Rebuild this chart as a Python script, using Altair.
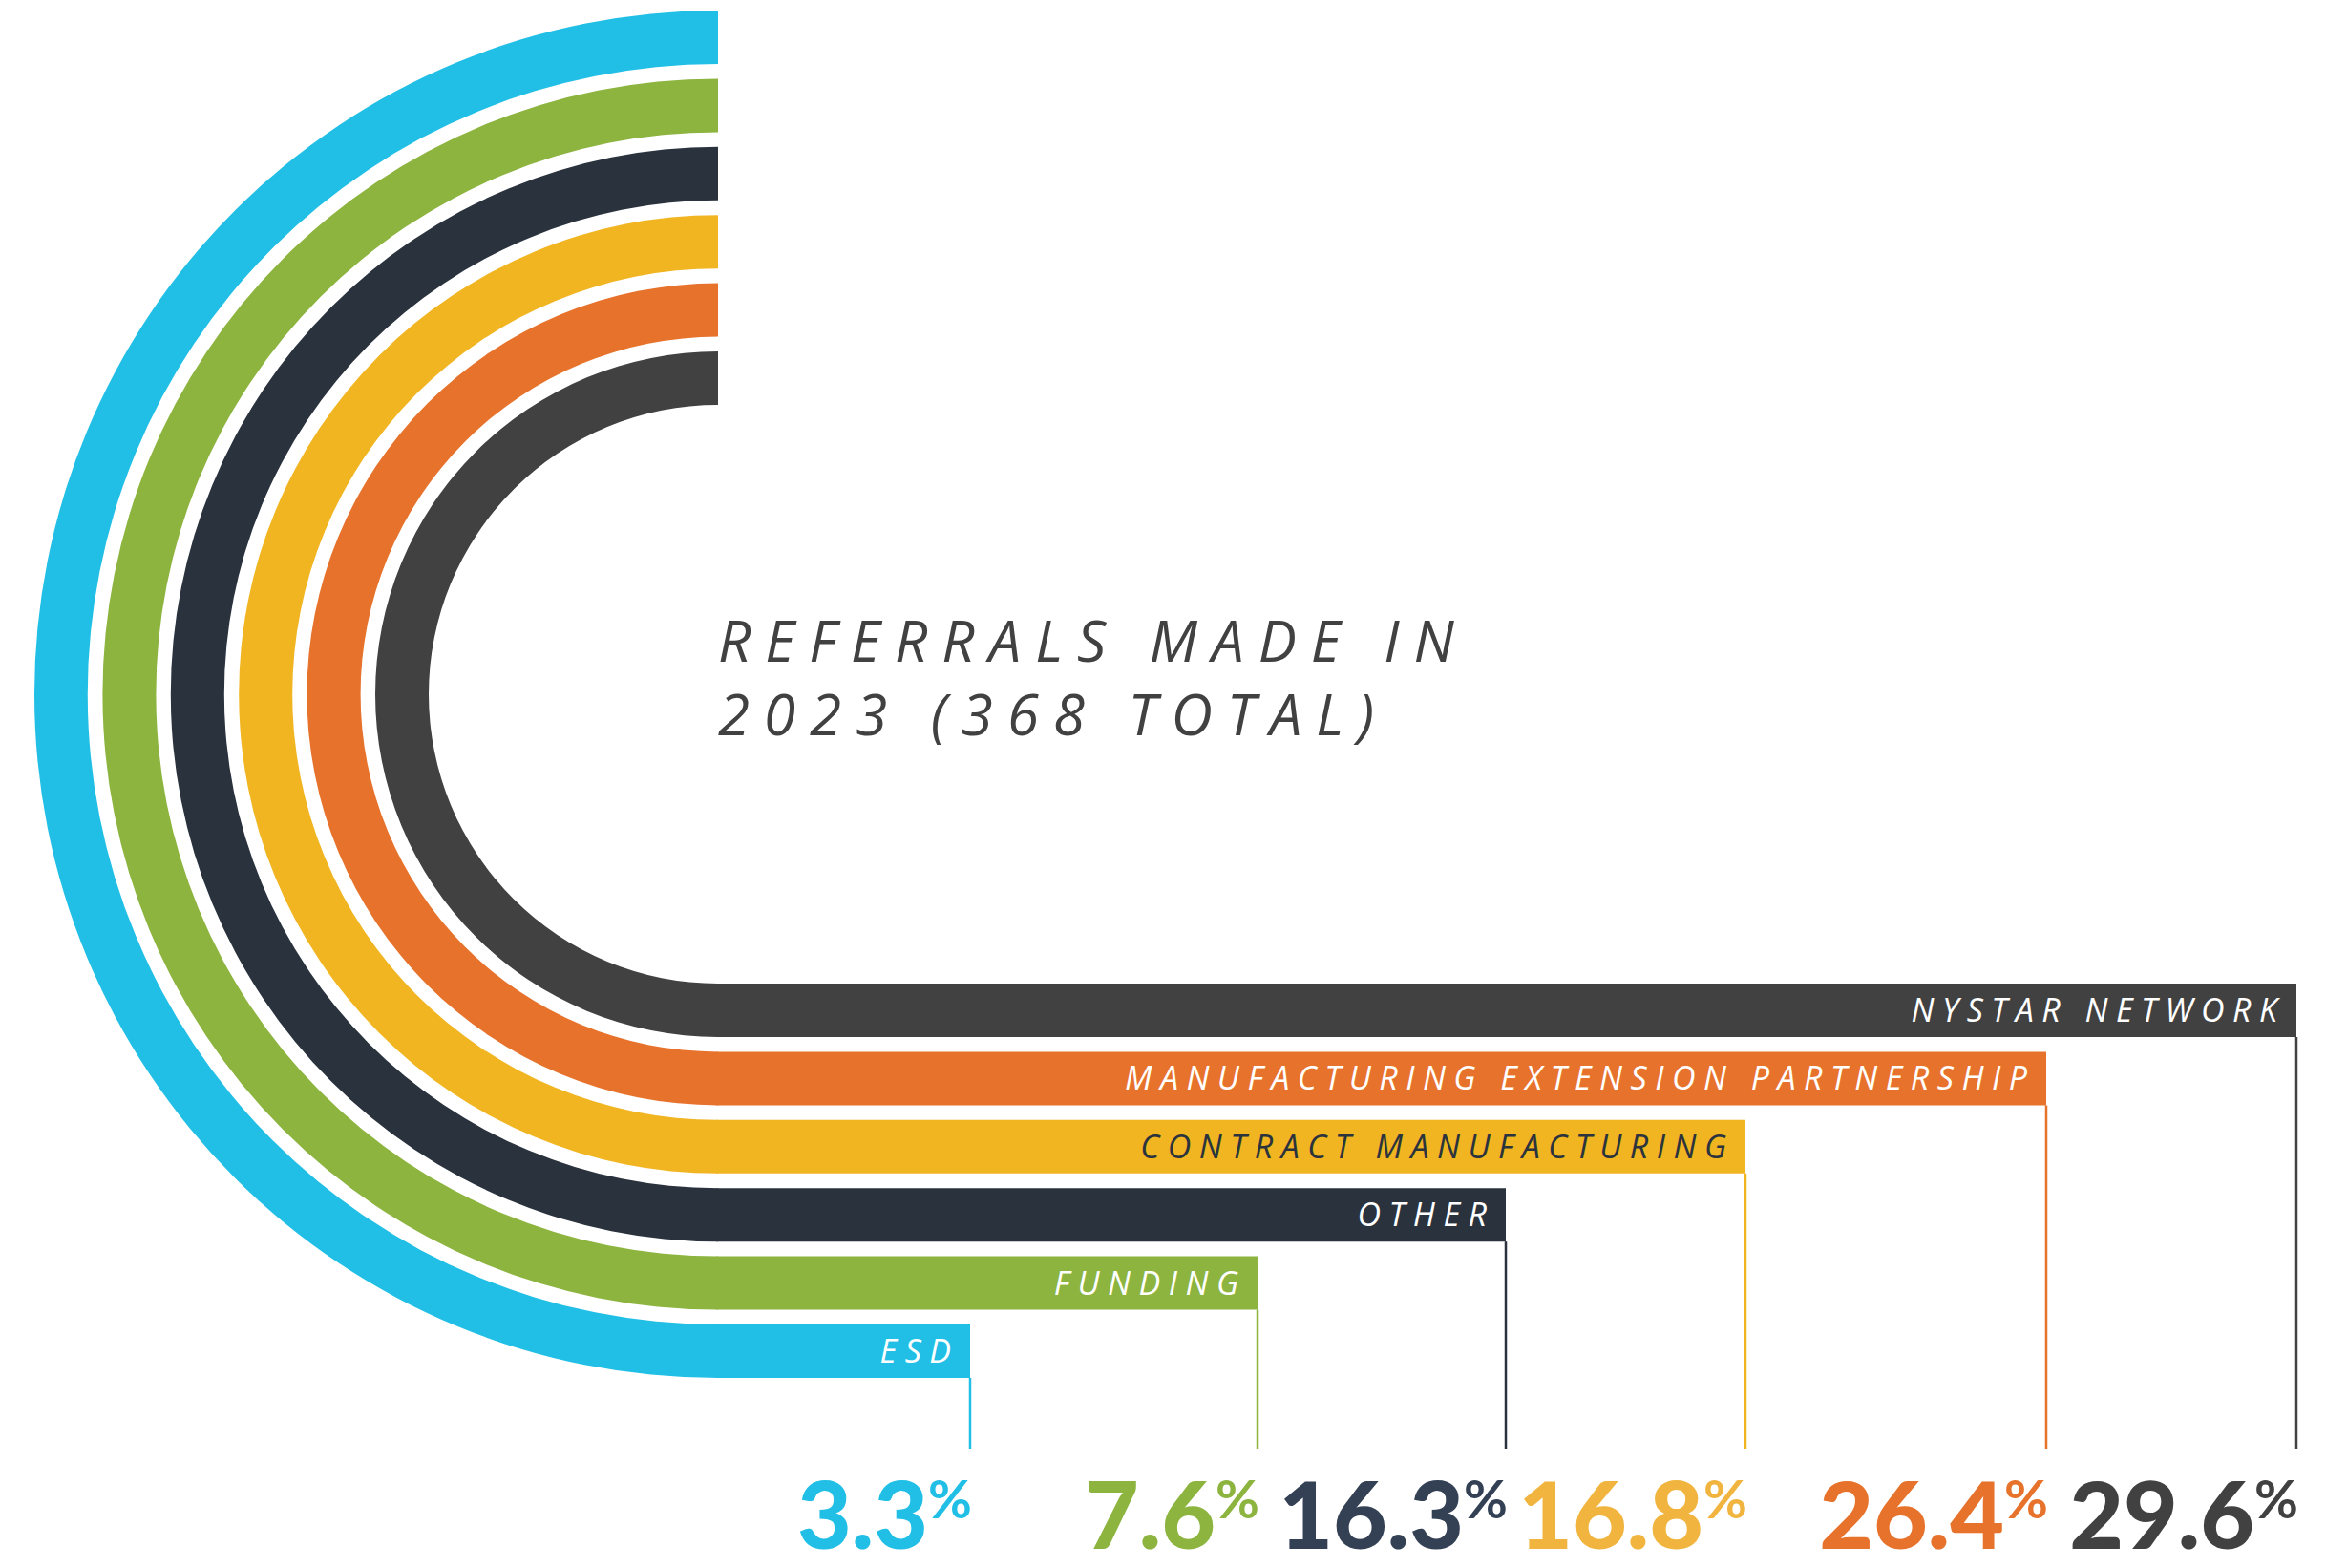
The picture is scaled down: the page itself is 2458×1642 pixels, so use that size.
import math
import altair as alt
import pandas as pd

# ---------------- data ----------------
categories = ["ESD", "Funding", "Other", "Contract Manufacturing",
              "Manufacturing Extension Partnership", "NYSTAR Network"]
percents = [3.3, 7.6, 16.3, 16.8, 26.4, 29.6]
band_colors = ["#21BFE6", "#8CB43F", "#29323D", "#F0B521", "#E7722B", "#414141"]
value_colors = ["#21BFE6", "#8CB43F", "#344154", "#F1B53F", "#E7722B", "#414141"]
label_colors = ["#FFFFFF", "#FFFFFF", "#FFFFFF", "#2B333D", "#FFFFFF", "#FFFFFF"]
title_lines = ["REFERRALS MADE IN", "2023 (368 TOTAL)"]

# ---------------- layout / style ----------------
W, H = 2458, 1642
CY = 727                      # ring centre (pixels from top)
R_OUTER = 716                 # outer radius of outermost ring
PITCH = 71.4                  # ring spacing
THICK = 56                    # ring thickness
RULE_END = 1517 - CY          # bottom end of thin leader lines
PCT_BASE = 1622 - CY          # baseline of percentage figures
SUP_BASE = 1590 - CY          # baseline of superscript %
end_positions = [752, 1016, 1317, 1577, 1828, 2143, 2405]  # x scale range (rank 0..6)

TRACK = "\u2005"  # four-per-em space, used as letter tracking


def tracked(s):
    return TRACK.join(list(s))


rows = []
for i, (c, p) in enumerate(zip(categories, percents)):
    r_out = R_OUTER - i * PITCH
    r_in = r_out - THICK
    rows.append(dict(
        cat=c, pct=p, num=f"{p:.1f}", rank=i + 1,
        label=tracked(c.upper()), label_color=label_colors[i], value_color=value_colors[i],
        x0=0, bar_start=-0.006, y0=0,
        r_out=r_out, r_in=r_in, r_mid=(r_out + r_in) / 2,
        t0=math.pi, t1=2 * math.pi,
        rule_end=RULE_END, pct_base=PCT_BASE, sup_base=SUP_BASE, sign="%",
    ))
df = pd.DataFrame(rows)
title_df = pd.DataFrame({"line": [tracked(t) for t in title_lines], "x0": [0, 0], "yb": [-34, 43]})

xs = alt.Scale(domain=list(range(7)), range=end_positions, nice=False, zero=False)
ys = alt.Scale(domain=[-CY, H - CY], range=[0, H], nice=False, zero=False)
color = alt.Color("cat:N", scale=alt.Scale(domain=categories, range=band_colors), legend=None)

base = alt.Chart(df)

arcs = base.mark_arc(padAngle=0, strokeWidth=0).encode(
    x=alt.X("x0:Q", scale=xs, axis=None),
    y=alt.Y("y0:Q", scale=ys, axis=None),
    theta=alt.Theta("t0:Q", scale=None),
    theta2=alt.Theta2("t1:Q"),
    radius=alt.Radius("r_out:Q", scale=None),
    radius2=alt.Radius2("r_in:Q"),
    color=color,
)

bars = base.mark_rect(strokeWidth=0).encode(
    x=alt.X("bar_start:Q", scale=xs, axis=None),
    x2="rank:Q",
    y=alt.Y("r_in:Q", scale=ys, axis=None),
    y2="r_out:Q",
    color=color,
)

rules = base.mark_rule(strokeWidth=2.5).encode(
    x=alt.X("rank:Q", scale=xs, axis=None),
    y=alt.Y("r_out:Q", scale=ys, axis=None),
    y2="rule_end:Q",
    color=color,
)

labels = base.mark_text(
    align="right", baseline="middle", dx=-20, dy=2,
    font="Open Sans", fontStyle="italic", fontWeight=400, fontSize=34,
).encode(
    x=alt.X("rank:Q", scale=xs, axis=None),
    y=alt.Y("r_mid:Q", scale=ys, axis=None),
    text="label:N",
    color=alt.Color("label_color:N", scale=None),
)

nums = base.mark_text(
    align="right", baseline="alphabetic", dx=-44,
    font="Lato", fontWeight=900, fontSize=98,
).encode(
    x=alt.X("rank:Q", scale=xs, axis=None),
    y=alt.Y("pct_base:Q", scale=ys, axis=None),
    text="num:N",
    color=alt.Color("value_color:N", scale=None),
)

signs = base.mark_text(
    align="right", baseline="alphabetic", dx=2,
    font="Lato", fontWeight=700, fontSize=56,
).encode(
    x=alt.X("rank:Q", scale=xs, axis=None),
    y=alt.Y("sup_base:Q", scale=ys, axis=None),
    text="sign:N",
    color=alt.Color("value_color:N", scale=None),
)

title = alt.Chart(title_df).mark_text(
    align="left", baseline="alphabetic",
    font="Open Sans", fontStyle="italic", fontWeight=400, fontSize=60, color="#414141",
).encode(
    x=alt.X("x0:Q", scale=xs, axis=None),
    y=alt.Y("yb:Q", scale=ys, axis=None),
    text="line:N",
)

chart = alt.layer(arcs, bars, rules, labels, nums, signs, title).properties(
    width=W, height=H, padding=0, autosize="none", background="#FFFFFF",
).configure_view(stroke=None)

chart.save("out.html", embed_options={"renderer": "svg", "actions": False})
